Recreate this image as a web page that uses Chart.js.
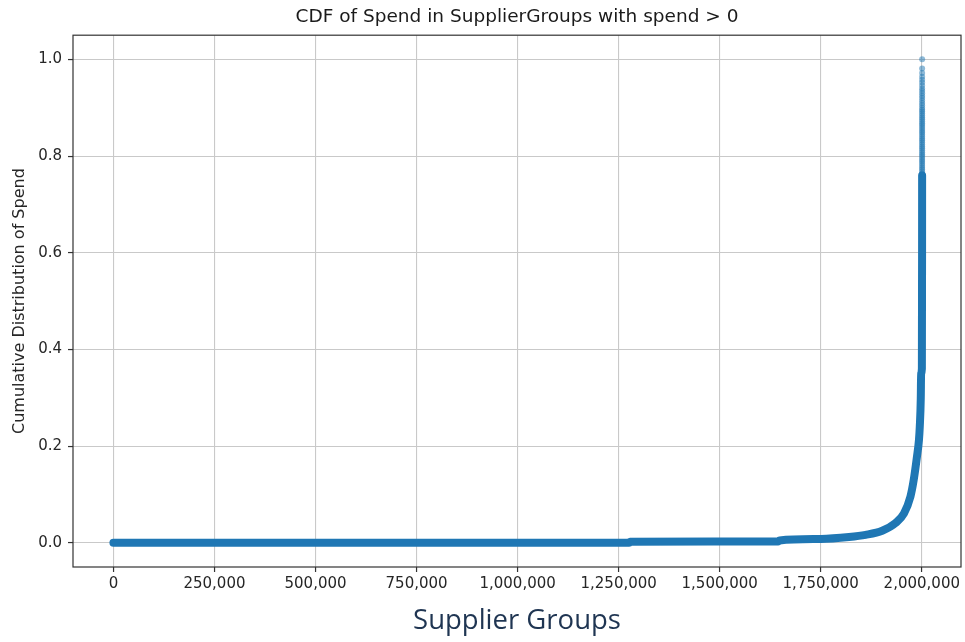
<!DOCTYPE html>
<html>
<head>
<meta charset="utf-8">
<script src="https://cdn.jsdelivr.net/npm/chart.js@4.4.1/dist/chart.umd.min.js"></script>
<style>
  html, body { margin: 0; padding: 0; background: #ffffff; }
  canvas { display: block; }
</style>
</head>
<body>
<canvas id="cdf" width="965" height="642"></canvas>
<script>
// Tick positions on each axis
const xTickValues = [0, 250000, 500000, 750000, 1000000, 1250000, 1500000, 1750000, 2000000];
const yTickValues = [0, 0.2, 0.4, 0.6, 0.8, 1.0];

// Sorted supplier groups (rank) against cumulative share of spend – dense body of the curve
const curveRank = [
  0, 400000, 800000, 1276000, 1278000, 1645000, 1648000, 1750000,
  1820000, 1861000, 1902000, 1935000, 1956000, 1972000, 1980000,
  1988000, 1993000, 1995000, 1997500, 1998300, 2000200, 2000700, 2000800
];
const curveShare = [
  0.000, 0.000, 0.000, 0.000, 0.002, 0.003, 0.005, 0.008,
  0.012, 0.0165, 0.025, 0.041, 0.061, 0.096, 0.130,
  0.178, 0.213, 0.240, 0.300, 0.350, 0.360, 0.600, 0.760
];

// Largest supplier groups: individual points at the top of the distribution
const tailRank = [
  2000801, 2000802, 2000803, 2000804, 2000805, 2000806, 2000807, 2000808,
  2000809, 2000810, 2000811, 2000812, 2000813, 2000814, 2000815, 2000816,
  2000817, 2000818, 2000819, 2000820, 2000821, 2000822, 2000823, 2000824,
  2000825, 2000826, 2000827, 2000828, 2000829, 2000830, 2000831, 2000832,
  2000833, 2000834, 2000835, 2000836, 2000837, 2000838, 2000839, 2000840,
  2000841, 2000842, 2000843, 2000844, 2000845, 2000846, 2000847, 2000848,
  2000849, 2000850
];
const tailShare = [
  0.764, 0.768, 0.772, 0.776, 0.780, 0.784, 0.788, 0.792,
  0.796, 0.800, 0.804, 0.808, 0.812, 0.816, 0.820, 0.824,
  0.828, 0.832, 0.836, 0.840, 0.844, 0.848, 0.852, 0.856,
  0.860, 0.864, 0.868, 0.872, 0.876, 0.880, 0.884, 0.888,
  0.892, 0.896, 0.900, 0.905, 0.910, 0.915, 0.920, 0.925,
  0.930, 0.935, 0.940, 0.946, 0.952, 0.958, 0.964, 0.972,
  0.981, 1.000
];

const withCommas = v => String(Math.round(v)).replace(/\B(?=(\d{3})+(?!\d))/g, ',');

// Full box around the plotting area
const frame = {
  id: 'frame',
  afterDraw(chart) {
    const { ctx, chartArea: a } = chart;
    ctx.save();
    ctx.strokeStyle = '#333333';
    ctx.lineWidth = 1.2;
    ctx.strokeRect(a.left, a.top, a.right - a.left, a.bottom - a.top);
    ctx.restore();
  }
};

const gridStyle = {
  color: '#c9c9c9',
  lineWidth: 1.1,
  drawTicks: true,
  tickLength: 5,
  tickColor: '#333333',
  tickWidth: 1.2
};

new Chart(document.getElementById('cdf'), {
  type: 'scatter',
  data: {
    datasets: [
      {
        label: 'CDF',
        data: curveRank.map((x, i) => ({ x: x, y: curveShare[i] })),
        showLine: true,
        borderColor: '#1f77b4',
        backgroundColor: '#1f77b4',
        borderWidth: 8,
        borderCapStyle: 'round',
        borderJoinStyle: 'round',
        cubicInterpolationMode: 'monotone',
        pointRadius: 0,
        order: 2
      },
      {
        label: 'CDF tail',
        data: tailRank.map((x, i) => ({ x: x, y: tailShare[i] })),
        showLine: false,
        backgroundColor: 'rgba(31,119,180,0.5)',
        borderWidth: 0,
        pointRadius: 3,
        order: 1
      }
    ]
  },
  options: {
    responsive: false,
    devicePixelRatio: 1,
    animation: false,
    layout: { padding: { top: 0, right: 3, bottom: 0, left: 0 } },
    plugins: {
      legend: { display: false },
      tooltip: { enabled: false },
      title: {
        display: true,
        fullSize: false,
        text: 'CDF of Spend in SupplierGroups with spend > 0',
        color: '#1a1a1a',
        font: { family: 'DejaVu Sans', size: 18.5, weight: 'normal' },
        padding: { top: 6, bottom: 7 }
      }
    },
    scales: {
      x: {
        type: 'linear',
        min: -100000,
        max: 2097000,
        afterBuildTicks: s => { s.ticks = xTickValues.map(v => ({ value: v })); },
        afterFit: s => { s.height = 75; },
        grid: gridStyle,
        border: { display: false },
        ticks: {
          callback: v => withCommas(v),
          color: '#262626',
          font: { family: 'DejaVu Sans', size: 15 },
          padding: 3,
          maxRotation: 0,
          autoSkip: false
        },
        title: {
          display: true,
          text: 'Supplier Groups',
          color: '#1f3552',
          font: { family: 'Open Sans', size: 27.5, weight: 'normal' },
          padding: { top: 0, bottom: 4 }
        }
      },
      y: {
        type: 'linear',
        min: -0.05,
        max: 1.05,
        afterBuildTicks: s => { s.ticks = yTickValues.map(v => ({ value: v })); },
        afterFit: s => { s.width = 73; },
        grid: gridStyle,
        border: { display: false },
        ticks: {
          callback: v => v.toFixed(1),
          color: '#262626',
          font: { family: 'DejaVu Sans', size: 15 },
          padding: 6
        },
        title: {
          display: true,
          text: 'Cumulative Distribution of Spend',
          color: '#262626',
          font: { family: 'DejaVu Sans', size: 16, weight: 'normal' },
          padding: { top: 10, bottom: 0 }
        }
      }
    }
  },
  plugins: [frame]
});
</script>
</body>
</html>
